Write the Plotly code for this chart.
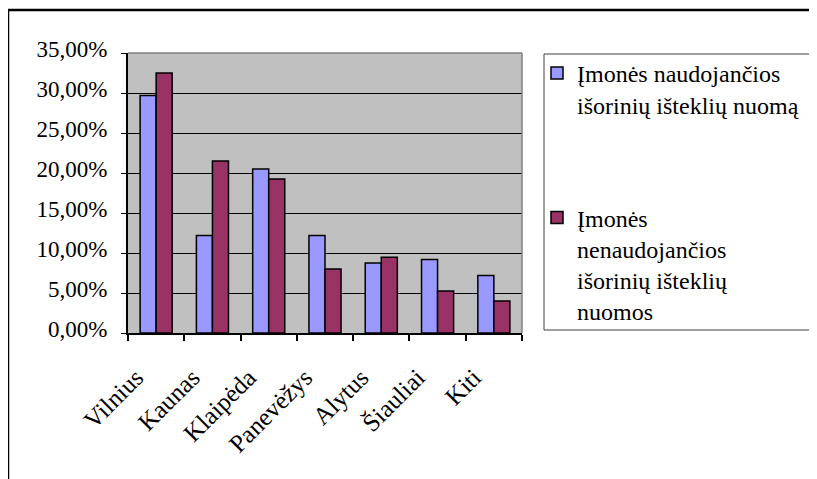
import plotly.graph_objects as go

categories = ["Vilnius", "Kaunas", "Klaipėda", "Panevėžys", "Alytus", "Šiauliai", "Kiti"]
series_names = ["Įmonės naudojančios<br>išorinių išteklių nuomą",
                "Įmonės<br>nenaudojančios<br>išorinių išteklių<br>nuomos"]
using = [0.297, 0.122, 0.205, 0.122, 0.0875, 0.092, 0.072]
not_using = [0.325, 0.215, 0.1925, 0.080, 0.0946, 0.0525, 0.040]
y_ticks = [0, 0.05, 0.10, 0.15, 0.20, 0.25, 0.30, 0.35]

FONT = "Times New Roman, Liberation Serif, serif"
OFF = 8  # page body offset in the browser

fig = go.Figure()
fig.add_trace(go.Bar(x=categories, y=using, name=series_names[0], legendgroup="a",
                     marker=dict(color="#9999FF", line=dict(color="black", width=1.5))))
fig.add_trace(go.Bar(x=categories, y=not_using, name=series_names[1], legendgroup="b",
                     marker=dict(color="#993366", line=dict(color="black", width=1.5))))

W, H = 817, 479
L, T = 128 - OFF, 53 - OFF
PR, PB = 522 - OFF, 333 - OFF  # plot right / bottom in figure px
R, B = W - PR, H - PB
pw, ph = PR - L, PB - T

def px(x):
    return (x - OFF - L) / pw

def py(y):
    return (PB - (y - OFF)) / ph

shapes = [
    dict(type="line", xref="paper", yref="paper", x0=px(8), x1=px(8), y0=py(10), y1=py(500),
         line=dict(color="black", width=2.5)),
    dict(type="line", xref="paper", yref="paper", x0=px(7), x1=px(840), y0=py(10), y1=py(10),
         line=dict(color="black", width=2.5)),
    dict(type="line", xref="paper", yref="paper", x0=0, x1=1, y0=1, y1=1,
         line=dict(color="#808080", width=1.5)),
    dict(type="line", xref="paper", yref="paper", x0=1, x1=1, y0=0, y1=1,
         line=dict(color="#808080", width=1.5)),
    dict(type="rect", xref="paper", yref="paper", x0=px(544), x1=px(860), y0=py(330), y1=py(54),
         line=dict(color="#404040", width=1)),
]

fig.update_layout(
    width=W, height=H,
    margin=dict(l=L, r=R, t=T, b=B, autoexpand=False),
    paper_bgcolor="white", plot_bgcolor="#C0C0C0",
    font=dict(family=FONT, size=21, color="black"),
    separators=", ",
    barmode="group", bargap=0.43, bargroupgap=0,
    shapes=shapes,
    showlegend=True,
    legend=dict(xref="container", yref="container", x=(537 - OFF) / W, y=1 - (51 - OFF) / H,
                xanchor="left", yanchor="top", traceorder="grouped", tracegroupgap=79,
                valign="top", bgcolor="rgba(0,0,0,0)", borderwidth=0, maxheight=800,
                font=dict(family=FONT, size=24, color="black")),
    xaxis=dict(type="category", tickangle=-45, tickson="boundaries", ticks="outside",
               ticklen=6, tickcolor="black", tickwidth=1.5, showgrid=False,
               showline=True, linecolor="black", linewidth=2,
               ticklabelstandoff=18, ticklabelshift=-20,
               tickfont=dict(family=FONT, size=25, color="black")),
    yaxis=dict(range=[0, 0.35], tickvals=y_ticks, tickformat=".2%", ticks="outside",
               ticklen=5, tickcolor="black", tickwidth=1, showgrid=True, gridcolor="black",
               gridwidth=1, showline=True, linecolor="black", linewidth=2, zeroline=False,
               ticklabelstandoff=9, ticklabelshift=-4,
               tickfont=dict(family=FONT, size=23, color="black")),
)

fig.write_html("out.html")
